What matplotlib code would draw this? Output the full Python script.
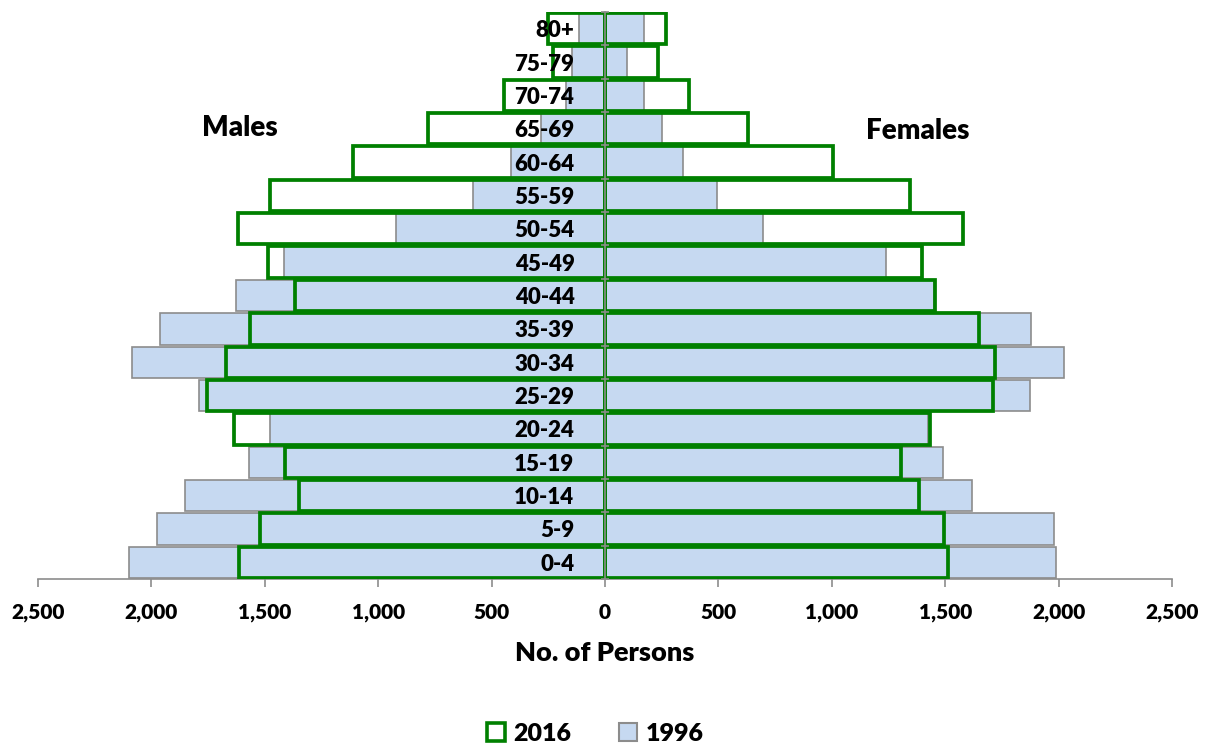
import matplotlib
matplotlib.use("Agg")
import matplotlib.pyplot as plt
from matplotlib.patches import Patch
from matplotlib.ticker import FuncFormatter, FixedLocator
import numpy as np

age_groups = ["0-4", "5-9", "10-14", "15-19", "20-24", "25-29", "30-34", "35-39",
              "40-44", "45-49", "50-54", "55-59", "60-64", "65-69", "70-74", "75-79", "80+"]

males_2016 = [1613, 1522, 1350, 1412, 1637, 1754, 1670, 1566, 1365, 1485,
              1620, 1479, 1110, 780, 446, 230, 250]
males_1996 = [2100, 1975, 1850, 1569, 1479, 1788, 2086, 1961, 1625, 1416,
              921, 581, 414, 284, 174, 145, 115]
females_2016 = [1513, 1494, 1384, 1304, 1431, 1710, 1719, 1651, 1457, 1398,
                1578, 1344, 1005, 630, 370, 234, 270]
females_1996 = [1989, 1979, 1620, 1490, 1426, 1875, 2025, 1879, 1452, 1237,
                697, 496, 346, 250, 171, 95, 171]

FONT = ["Lato", "DejaVu Sans"]
plt.rcParams["font.family"] = FONT
W = "heavy"

GREEN = "#008000"
BLUE = "#C6D9F1"
GRAY = "#8C8C8C"

fig = plt.figure(figsize=(12.06, 7.46), dpi=100)
ax = fig.add_axes([38 / 1206, 167 / 746, 1134 / 1206, 567 / 746])

y = np.arange(len(age_groups))
h = 0.94

m16 = -np.array(males_2016)
m96 = -np.array(males_1996)
f16 = np.array(females_2016)
f96 = np.array(females_1996)

# 2016 white fill underneath
ax.barh(y, m16, height=h, color="white", edgecolor="none", zorder=1)
ax.barh(y, f16, height=h, color="white", edgecolor="none", zorder=1)
# 1996 blue with gray edge
ax.barh(y, m96, height=h, color=BLUE, edgecolor=GRAY, linewidth=1.2, zorder=2)
ax.barh(y, f96, height=h, color=BLUE, edgecolor=GRAY, linewidth=1.2, zorder=2)
# 2016 green outline on top
ax.barh(y, m16, height=h, facecolor="none", edgecolor=GREEN, linewidth=2.7, zorder=3)
ax.barh(y, f16, height=h, facecolor="none", edgecolor=GREEN, linewidth=2.7, zorder=3)

ax.set_xlim(-2500, 2500)
ax.set_ylim(-0.5, len(age_groups) - 0.5)

for s in ["top", "right"]:
    ax.spines[s].set_visible(False)
ax.spines["left"].set_position(("data", 0))
ax.spines["left"].set_color(GRAY)
ax.spines["left"].set_linewidth(1.2)
ax.spines["left"].set_zorder(4)
ax.spines["bottom"].set_color(GRAY)
ax.spines["bottom"].set_linewidth(1.2)

ax.set_xticks(np.arange(-2500, 2501, 500))
ax.xaxis.set_major_formatter(FuncFormatter(lambda v, p: f"{abs(int(v)):,}"))
ax.tick_params(axis="x", direction="out", length=6, width=1.2, color=GRAY,
               labelsize=15, pad=11)
for lbl in ax.get_xticklabels():
    lbl.set_fontweight(W)

ax.set_yticks(y)
ax.set_yticklabels(age_groups, fontsize=16, fontweight=W)
ax.yaxis.set_minor_locator(FixedLocator(np.arange(-0.5, len(age_groups), 1)))
ax.tick_params(axis="y", which="major", length=0, pad=22)
ax.tick_params(axis="y", which="minor", direction="inout", length=6, width=1.2, color=GRAY)
ax.yaxis.set_zorder(6)

ax.set_xlabel("No. of Persons", fontsize=19.5, fontweight=W, labelpad=14)

fig.text(240 / 1206, 1 - 128 / 746, "Males", fontsize=20, fontweight=W,
         ha="center", va="center")
fig.text(918 / 1206, 1 - 131 / 746, "Females", fontsize=20, fontweight=W,
         ha="center", va="center")

handles = [Patch(facecolor="white", edgecolor=GREEN, linewidth=2.6, label="2016"),
           Patch(facecolor=BLUE, edgecolor=GRAY, linewidth=1.5, label="1996")]
leg = fig.legend(handles=handles, loc="center", bbox_to_anchor=(595 / 1206, 1 - 734 / 746),
                 ncol=2, frameon=False, handlelength=0.72, handleheight=0.72,
                 handletextpad=0.35, columnspacing=1.9,
                 prop={"family": FONT, "weight": W, "size": 18})

fig.savefig("out.png", dpi=100)
